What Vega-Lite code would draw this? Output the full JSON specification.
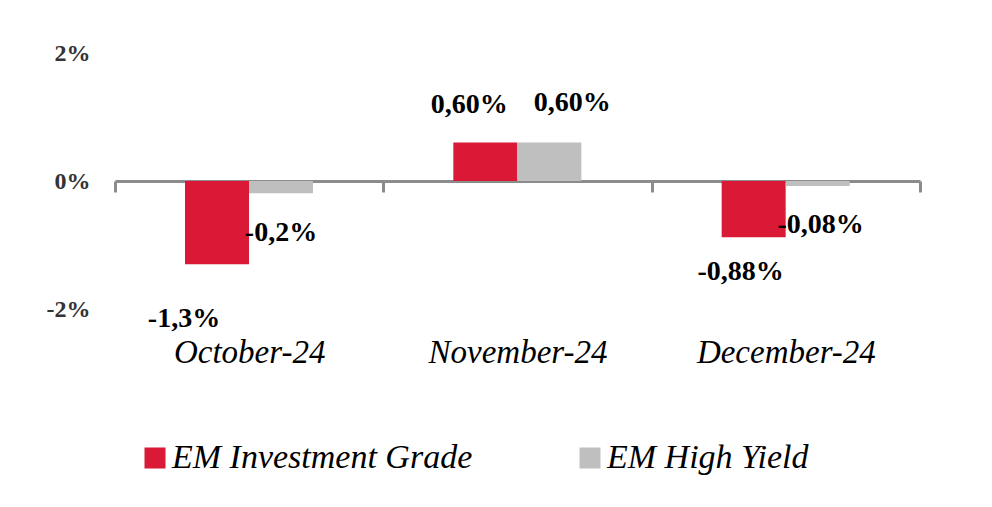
{
  "$schema": "https://vega.github.io/schema/vega-lite/v6.json",
  "width": 805,
  "height": 256,
  "autosize": {"type": "none"},
  "padding": {"left": 115, "top": 53, "right": 72, "bottom": 198},
  "background": "white",
  "config": {"view": {"stroke": null}, "font": "Liberation Serif"},
  "data": {
    "values": [
      {"month": "October-24", "series": "EM Investment Grade", "value": -1.3, "label": "-1,3%"},
      {"month": "October-24", "series": "EM High Yield", "value": -0.19, "label": "-0,2%"},
      {"month": "November-24", "series": "EM Investment Grade", "value": 0.6, "label": "0,60%"},
      {"month": "November-24", "series": "EM High Yield", "value": 0.6, "label": "0,60%"},
      {"month": "December-24", "series": "EM Investment Grade", "value": -0.88, "label": "-0,88%"},
      {"month": "December-24", "series": "EM High Yield", "value": -0.08, "label": "-0,08%"}
    ]
  },
  "encoding": {
    "x": {
      "field": "month", "type": "nominal",
      "sort": ["October-24", "November-24", "December-24"],
      "scale": {"paddingInner": 0, "paddingOuter": 0},
      "axis": {
        "title": null, "orient": "bottom", "offset": -128,
        "domainColor": "#8C8C8C", "domainWidth": 3,
        "tickColor": "#8C8C8C", "tickWidth": 3, "tickSize": 11, "tickBand": "extent",
        "labelFont": "Liberation Serif", "labelFontStyle": "italic", "labelFontSize": 33,
        "labelColor": "black", "labelBaseline": "alphabetic", "labelPadding": 170,
        "labelLimit": 400, "labelAngle": 0
      }
    },
    "xOffset": {
      "field": "series", "type": "nominal",
      "sort": ["EM Investment Grade", "EM High Yield"],
      "scale": {"paddingInner": 0, "paddingOuter": 0, "range": [70, 198]}
    },
    "y": {
      "field": "value", "type": "quantitative",
      "scale": {"domain": [-2, 2], "nice": false},
      "axis": {
        "title": null, "values": [-2, 0, 2], "grid": false, "domain": false, "ticks": false,
        "labelExpr": "datum.value + '%'",
        "labelFont": "Liberation Serif", "labelFontWeight": "bold", "labelFontSize": 24,
        "labelColor": "#333333", "labelPadding": 25
      }
    }
  },
  "layer": [
    {
      "mark": {"type": "bar", "width": 64},
      "encoding": {
        "color": {
          "field": "series", "type": "nominal",
          "scale": {"domain": ["EM Investment Grade", "EM High Yield"], "range": ["#D91935", "#BFBFBF"]},
          "legend": {
            "title": null, "orient": "none", "direction": "horizontal",
            "legendX": 23, "legendY": 388,
            "symbolType": "square", "symbolSize": 441, "symbolStrokeWidth": 0,
            "labelFont": "Liberation Serif", "labelFontStyle": "italic", "labelFontSize": 34,
            "labelColor": "black", "labelOffset": 0, "columnPadding": 100, "labelLimit": 500
          }
        }
      }
    },
    {
      "transform": [{"filter": "datum.month == 'October-24' && datum.series == 'EM Investment Grade'"}],
      "mark": {"type": "text", "fontSize": 28, "fontWeight": "bold", "color": "black", "baseline": "alphabetic", "dx": -33, "dy": 63},
      "encoding": {"text": {"field": "label"}}
    },
    {
      "transform": [{"filter": "datum.month == 'October-24' && datum.series == 'EM High Yield'"}],
      "mark": {"type": "text", "fontSize": 28, "fontWeight": "bold", "color": "black", "baseline": "alphabetic", "dx": 0, "dy": 48},
      "encoding": {"text": {"field": "label"}}
    },
    {
      "transform": [{"filter": "datum.month == 'November-24' && datum.series == 'EM Investment Grade'"}],
      "mark": {"type": "text", "fontSize": 28, "fontWeight": "bold", "color": "black", "baseline": "alphabetic", "dx": -16, "dy": -30},
      "encoding": {"text": {"field": "label"}}
    },
    {
      "transform": [{"filter": "datum.month == 'November-24' && datum.series == 'EM High Yield'"}],
      "mark": {"type": "text", "fontSize": 28, "fontWeight": "bold", "color": "black", "baseline": "alphabetic", "dx": 23, "dy": -32},
      "encoding": {"text": {"field": "label"}}
    },
    {
      "transform": [{"filter": "datum.month == 'December-24' && datum.series == 'EM Investment Grade'"}],
      "mark": {"type": "text", "fontSize": 28, "fontWeight": "bold", "color": "black", "baseline": "alphabetic", "dx": -13, "dy": 43},
      "encoding": {"text": {"field": "label"}}
    },
    {
      "transform": [{"filter": "datum.month == 'December-24' && datum.series == 'EM High Yield'"}],
      "mark": {"type": "text", "fontSize": 28, "fontWeight": "bold", "color": "black", "baseline": "alphabetic", "dx": 3, "dy": 47},
      "encoding": {"text": {"field": "label"}}
    }
  ]
}
